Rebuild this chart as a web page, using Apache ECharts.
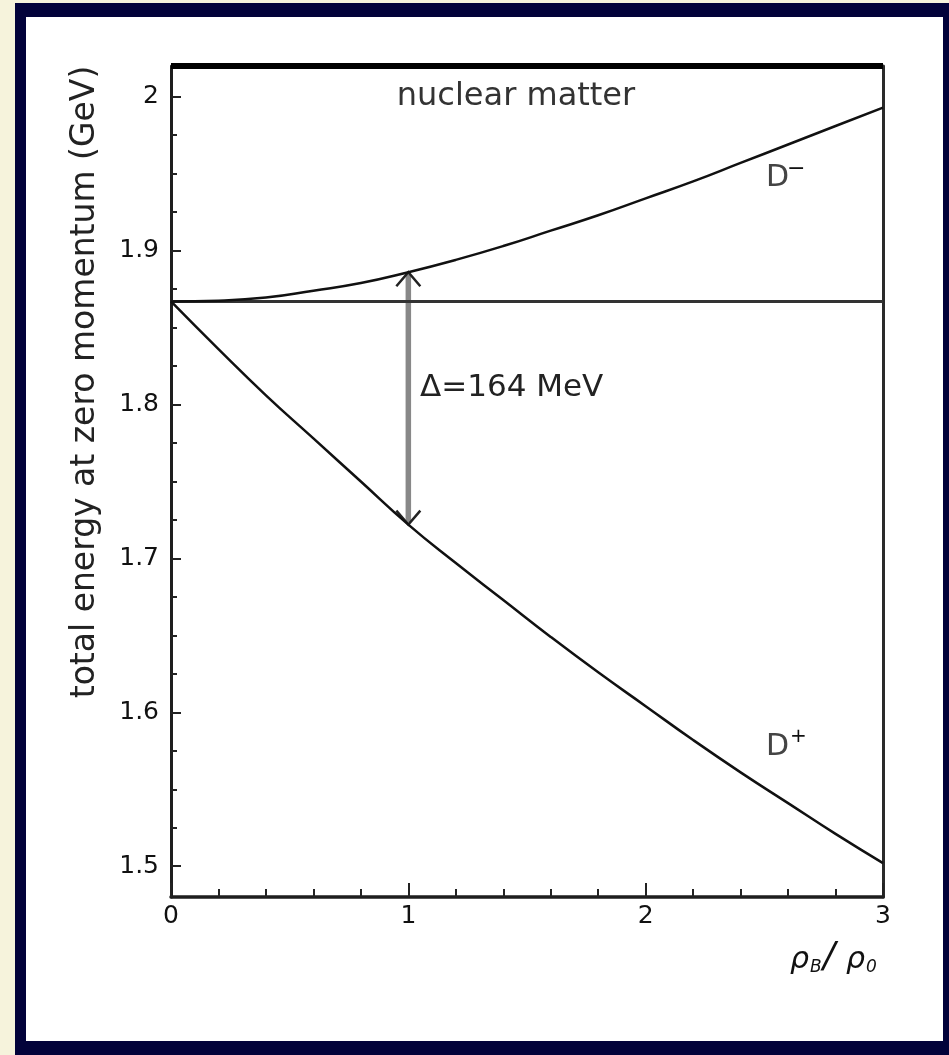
<!DOCTYPE html>
<html>
<head>
<meta charset="utf-8">
<script src="https://cdn.jsdelivr.net/npm/echarts@6/dist/echarts.min.js"></script>
<style>
	html, body { margin: 0; padding: 0; background: #f6f3dc; }
	#frame { position: absolute; left: 15px; top: 3px; width: 934px; height: 1052px; background: #02023a; }
	#paper { position: absolute; left: 26px; top: 17px; width: 917px; height: 1024px; background: #fff; }
	#chart { position: absolute; left: 0; top: 0; width: 949px; height: 1055px; }
</style>
</head>
<body>
<div id="frame"></div>
<div id="paper"></div>
<div id="chart"></div>
<script>
// rho_B / rho_0
var rho = [0, 0.2, 0.4, 0.6, 0.8, 1.0, 1.2, 1.4, 1.6, 1.8, 2.0, 2.2, 2.4, 2.6, 2.8, 3.0]
// total energy at zero momentum (GeV)
var massDminus = [1.867, 1.8675, 1.8695, 1.874, 1.879, 1.886, 1.894, 1.903, 1.913, 1.923, 1.934, 1.945, 1.957, 1.969, 1.981, 1.993]
var massDplus = [1.867, 1.836, 1.806, 1.778, 1.750, 1.722, 1.697, 1.673, 1.649, 1.626, 1.604, 1.582, 1.561, 1.541, 1.521, 1.502]
var massVacuum = 1.867
// arrow is drawn at rho = 1
var arrowRho = 1.0
var yMajorTicks = [1.5, 1.6, 1.7, 1.8, 1.9, 2.0]
var yMinorTicks = [1.5, 1.525, 1.55, 1.575, 1.6, 1.625, 1.65, 1.675, 1.7, 1.725, 1.75, 1.775,
	1.8, 1.825, 1.85, 1.875, 1.9, 1.925, 1.95, 1.975, 2.0]

var FONT = 'DejaVu Sans'

function pairs(xs, ys) {
	return xs.map(function(x, i) { return [x, ys[i]] })
}

function txt(x, y, text, size, extra) {
	var style = { text: text, fontFamily: FONT, fontSize: size, fill: '#111', align: 'left', verticalAlign: 'middle' }
	for (var k in extra) style[k] = extra[k]
	return { type: 'text', x: x, y: y, style: style }
}

var iArrow = rho.indexOf(arrowRho)

var option = {
	animation: false,
	backgroundColor: 'transparent',
	grid: { left: 171, right: 66, top: 66, bottom: 158, containLabel: false },
	xAxis: [
		{
			type: 'value',
			position: 'bottom',
			min: 0,
			max: 3,
			interval: 1,
			axisLine: { lineStyle: { color: '#1e1e1e', width: 3.5 } },
			axisTick: { inside: true, length: 14, lineStyle: { color: '#222', width: 2 } },
			minorTick: { show: true, splitNumber: 5, length: 8, lineStyle: { color: '#222', width: 2 } },
			axisLabel: { fontFamily: FONT, fontSize: 25, color: '#111', margin: 7 },
			splitLine: { show: false }
		},
		{
			type: 'value',
			position: 'top',
			min: 0,
			max: 3,
			axisLine: { lineStyle: { color: '#000', width: 6, cap: 'butt' } },
			axisTick: { show: false },
			axisLabel: { show: false },
			splitLine: { show: false }
		}
	],
	yAxis: [
		{
			type: 'value',
			position: 'left',
			min: 1.48,
			max: 2.02,
			axisLine: { show: true, lineStyle: { color: '#1e1e1e', width: 3 } },
			axisTick: { inside: true, length: 10, customValues: yMajorTicks, lineStyle: { color: '#222', width: 2 } },
			axisLabel: { customValues: yMajorTicks, fontFamily: FONT, fontSize: 25, color: '#111', margin: 12 },
			splitLine: { show: false }
		},
		{
			type: 'value',
			position: 'left',
			min: 1.48,
			max: 2.02,
			axisLine: { show: false },
			axisTick: { inside: true, length: 6, customValues: yMinorTicks, lineStyle: { color: '#222', width: 2 } },
			axisLabel: { show: false },
			splitLine: { show: false }
		},
		{
			type: 'value',
			position: 'right',
			min: 1.48,
			max: 2.02,
			axisLine: { show: true, lineStyle: { color: '#2a2a2a', width: 3 } },
			axisTick: { show: false },
			axisLabel: { show: false },
			splitLine: { show: false }
		}
	],
	series: [
		{
			name: 'vacuum',
			type: 'line',
			data: [[rho[0], massVacuum], [rho[rho.length - 1], massVacuum]],
			showSymbol: false,
			lineStyle: { color: '#333', width: 3 }
		},
		{
			name: 'D-',
			type: 'line',
			smooth: true,
			data: pairs(rho, massDminus),
			showSymbol: false,
			lineStyle: { color: '#111', width: 2.5 }
		},
		{
			name: 'D+',
			type: 'line',
			smooth: true,
			data: pairs(rho, massDplus),
			showSymbol: false,
			lineStyle: { color: '#111', width: 2.5 }
		},
		{
			name: 'gap',
			type: 'custom',
			clip: false,
			data: [[arrowRho, massDminus[iArrow], massDplus[iArrow]]],
			encode: { x: 0, y: [1, 2] },
			renderItem: function(params, api) {
				var top = api.coord([api.value(0), api.value(1)])
				var bot = api.coord([api.value(0), api.value(2)])
				var w = 12, h = 14
				return {
					type: 'group',
					children: [
						{
							type: 'line',
							shape: { x1: top[0], y1: top[1] + 2, x2: bot[0], y2: bot[1] - 2 },
							style: { stroke: '#888', lineWidth: 5.5 }
						},
						{
							type: 'polyline',
							shape: { points: [[top[0] - w, top[1] + h], top, [top[0] + w, top[1] + h]] },
							style: { stroke: '#222', lineWidth: 2.5, fill: null }
						},
						{
							type: 'polyline',
							shape: { points: [[bot[0] - w, bot[1] - h], bot, [bot[0] + w, bot[1] - h]] },
							style: { stroke: '#222', lineWidth: 2.5, fill: null }
						}
					]
				}
			}
		}
	],
	graphic: [
		{
			type: 'text',
			x: 85,
			y: 382,
			rotation: Math.PI / 2,
			style: {
				text: 'total energy at zero momentum (GeV)',
				fontFamily: FONT,
				fontSize: 33,
				fill: '#222',
				align: 'center',
				verticalAlign: 'middle'
			}
		},
		txt(516, 97, 'nuclear matter', 32, { fill: '#333', align: 'center' }),
		txt(420, 388, 'Δ=164 MeV', 31, { fill: '#222' }),
		txt(766, 178, 'D', 30, { fill: '#444' }),
		txt(787, 169, '−', 22),
		txt(766, 747, 'D', 30, { fill: '#444' }),
		txt(790, 737, '+', 20),
		txt(790, 960, 'ρ', 30, { fontStyle: 'italic' }),
		txt(810, 968, 'B', 17, { fontStyle: 'italic' }),
		txt(823, 958, '/', 36, { fontStyle: 'italic' }),
		txt(846, 960, 'ρ', 30, { fontStyle: 'italic' }),
		txt(866, 968, '0', 17, { fontStyle: 'italic' })
	]
}

var myChart = echarts.init(document.getElementById('chart'))
myChart.setOption(option)
</script>
</body>
</html>
